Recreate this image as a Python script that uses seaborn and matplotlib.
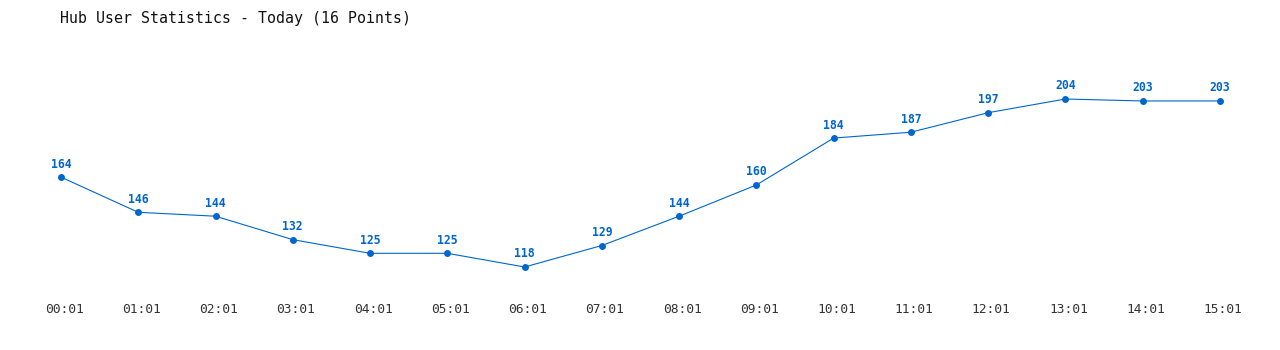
import matplotlib
matplotlib.use("Agg")
import matplotlib.pyplot as plt
import matplotlib.transforms as mtransforms
import seaborn as sns
import pandas as pd

times = ["00:01", "01:01", "02:01", "03:01", "04:01", "05:01", "06:01", "07:01",
         "08:01", "09:01", "10:01", "11:01", "12:01", "13:01", "14:01", "15:01"]
users = [164, 146, 144, 132, 125, 125, 118, 129, 144, 160, 184, 187, 197, 204, 203, 203]
title = "Hub User Statistics - Today (16 Points)"

sns.set_theme(style="white")
plt.rcParams['font.family'] = ['DejaVu Sans Mono', 'DejaVu Sans']

df = pd.DataFrame({"idx": range(len(times)), "users": users})
color = "#0066cc"

fig = plt.figure(figsize=(12.8, 3.5), dpi=100)
ax = fig.add_axes([61 / 1280, 1 - 285 / 350, 1159 / 1280, 225 / 350])
sns.lineplot(data=df, x="idx", y="users", ax=ax, color=color, linewidth=0.8,
             marker="o", markersize=5, markeredgewidth=0, clip_on=False)
for i, v in enumerate(users):
    ax.annotate(str(v), (i, v), xytext=(0, 9.4), textcoords="offset points",
                ha="center", va="center", fontsize=8.3, fontweight="bold", color=color)

ax.set_xlim(0, 15)
ax.set_ylim(108.78, 223.97)
ax.set_xticks(range(len(times)))
ax.set_xticklabels(times, fontsize=9.3, color="#333333")
ax.set_yticks([])
ax.tick_params(axis="x", length=0, pad=13)
shift = mtransforms.ScaledTranslation(3 / 100, 0, fig.dpi_scale_trans)
for lbl in ax.get_xticklabels():
    lbl.set_transform(lbl.get_transform() + shift)
ax.set_xlabel("")
ax.set_ylabel("")
for s in ax.spines.values():
    s.set_visible(False)

fig.text(60 / 1280, 1 - 18 / 350, title, fontsize=10.7, color="#111111",
         ha="left", va="center")

fig.savefig("out.png", dpi=100, facecolor="white")
